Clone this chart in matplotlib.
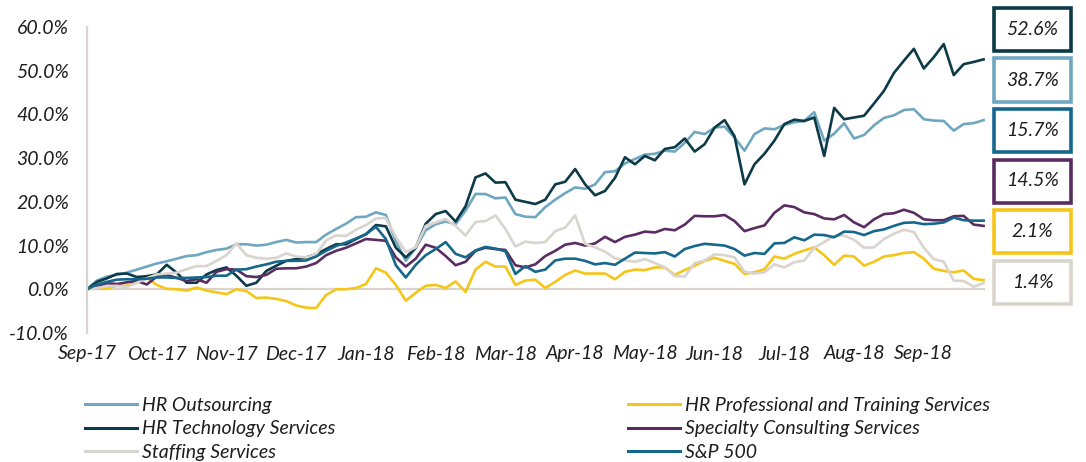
import numpy as np
import matplotlib
matplotlib.use("Agg")
import matplotlib.pyplot as plt
from matplotlib.lines import Line2D
from matplotlib.patches import Rectangle

# ---------------- data (cumulative return, %) ----------------
month_labels = ["Sep-17", "Oct-17", "Nov-17", "Dec-17", "Jan-18", "Feb-18", "Mar-18",
                "Apr-18", "May-18", "Jun-18", "Jul-18", "Aug-18", "Sep-18"]

hr_outsourcing = [0, 2.0, 2.9, 3.3, 3.8, 4.5, 5.2, 5.9, 6.4, 7.0, 7.6, 7.8, 8.5, 9.0, 9.3,
                  10.3, 10.3, 10.0, 10.2, 10.8, 11.3, 10.7, 10.8, 10.8, 12.5, 13.8, 15.0, 16.5, 16.6, 17.6,
                  17.0, 11.0, 6.5, 9.5, 13.5, 14.9, 15.5, 14.9, 18.0, 21.8, 21.8, 20.8, 21.0, 17.2, 16.6,
                  16.5, 18.8, 20.5, 22.0, 23.3, 23.0, 24.0, 26.8, 27.0, 28.8, 29.8, 30.8, 31.0, 31.7, 31.5,
                  33.5, 36.0, 35.5, 37.0, 37.2, 34.7, 31.7, 35.5, 36.8, 36.6, 37.6, 38.2, 38.5, 40.5, 34.0,
                  35.6, 38.0, 34.5, 35.3, 37.5, 39.2, 39.8, 41.0, 41.2, 38.9, 38.6, 38.5, 36.3, 37.8, 38.0, 38.7]

hr_technology = [0, 1.7, 2.5, 3.5, 3.6, 2.8, 3.0, 3.4, 5.6, 3.8, 1.5, 1.5, 3.4, 4.4, 5.0,
                 3.1, 0.8, 1.5, 4.2, 5.4, 6.5, 6.9, 7.3, 8.0, 9.2, 10.3, 10.3, 11.5, 12.6, 14.7,
                 14.4, 9.5, 7.3, 9.5, 15.0, 17.2, 17.9, 15.5, 19.0, 25.6, 26.5, 24.4, 24.5, 20.5, 20.0,
                 19.5, 20.5, 24.0, 24.6, 27.5, 24.0, 21.5, 22.5, 25.5, 30.2, 28.6, 30.5, 29.5, 32.1, 32.5,
                 34.5, 31.5, 33.2, 37.0, 38.7, 35.0, 24.0, 28.6, 31.0, 34.0, 37.8, 38.8, 38.5, 39.3, 30.5,
                 41.5, 38.9, 39.3, 39.7, 42.5, 45.4, 49.5, 52.3, 55.0, 50.5, 53.1, 56.1, 49.0, 51.5, 52.0, 52.6]

staffing = [0, 0.3, 0.7, 0.8, 0.5, 1.5, 2.5, 3.4, 3.6, 3.8, 4.6, 5.3, 5.3, 6.5, 7.8,
            10.5, 7.8, 7.2, 7.0, 7.2, 8.2, 7.5, 7.3, 8.0, 11.2, 12.3, 12.2, 13.6, 14.7, 16.2,
            16.3, 12.0, 8.5, 9.6, 14.5, 15.3, 16.1, 14.5, 12.3, 15.4, 15.6, 16.9, 13.8, 9.8, 10.9,
            10.6, 10.8, 13.3, 14.1, 16.9, 10.4, 9.6, 8.6, 7.1, 6.6, 6.3, 6.9, 6.0, 5.0, 3.0,
            2.9, 6.0, 6.6, 8.0, 7.8, 7.3, 4.0, 3.6, 3.9, 5.7, 5.0, 6.2, 6.6, 9.5, 10.8,
            12.2, 12.3, 11.3, 9.5, 9.6, 11.5, 12.7, 13.6, 13.1, 9.5, 6.9, 6.3, 2.0, 1.9, 0.6, 1.4]

hr_professional = [0, 0.2, 0.1, 0.8, 0.8, 1.5, 2.7, 1.0, 0.1, 0.0, -0.3, 0.4, -0.3, -0.7, -1.1,
                   0.0, -0.4, -2.0, -1.9, -2.2, -2.7, -3.7, -4.2, -4.3, -1.3, 0.0, 0.0, 0.3, 1.2, 4.8,
                   3.8, 1.0, -2.6, -0.8, 0.8, 1.0, 0.3, 1.8, -0.6, 4.5, 6.3, 5.2, 5.2, 1.0, 2.0,
                   2.2, 0.3, 1.7, 3.3, 4.3, 3.6, 3.6, 3.6, 2.3, 4.0, 4.5, 4.4, 5.0, 5.0, 3.3,
                   4.4, 5.4, 6.5, 7.2, 6.5, 5.8, 3.5, 3.9, 4.6, 7.5, 7.0, 8.1, 8.9, 9.6, 7.8,
                   5.6, 7.7, 7.5, 5.4, 6.3, 7.5, 7.8, 8.3, 8.5, 7.0, 4.7, 4.2, 3.9, 4.3, 2.4, 2.1]

specialty_consulting = [0, 0.7, 1.4, 1.2, 1.6, 1.9, 1.1, 2.9, 3.3, 2.6, 1.9, 2.3, 1.5, 4.0, 4.6,
                        4.5, 3.0, 2.8, 3.3, 4.7, 4.8, 4.8, 5.2, 6.0, 7.8, 8.8, 9.5, 10.5, 11.5, 11.3,
                        11.1, 7.3, 5.2, 7.0, 10.2, 9.5, 7.6, 5.5, 6.3, 8.8, 9.5, 9.2, 9.0, 5.5, 5.0,
                        5.7, 7.6, 8.8, 10.2, 10.6, 10.0, 10.5, 12.0, 10.8, 12.0, 12.5, 13.2, 13.0, 13.8, 13.5,
                        14.8, 16.8, 16.7, 16.7, 17.0, 15.6, 13.3, 14.0, 14.6, 17.5, 19.2, 18.8, 17.6, 17.2, 16.2,
                        16.0, 17.0, 15.3, 14.2, 16.0, 17.2, 17.4, 18.2, 17.5, 16.0, 15.8, 15.8, 16.7, 16.8, 14.8, 14.5]

sp500 = [0, 1.1, 1.7, 2.2, 2.3, 2.3, 2.4, 2.7, 2.7, 2.6, 2.6, 2.7, 2.8, 3.1, 3.1,
         4.5, 4.6, 5.2, 5.7, 6.3, 6.5, 6.5, 6.6, 7.5, 8.8, 9.9, 10.7, 11.6, 12.6, 14.3,
         11.5, 5.5, 2.7, 5.6, 7.8, 9.2, 10.8, 8.1, 7.3, 8.9, 9.7, 9.3, 8.7, 3.5, 5.3,
         4.0, 4.5, 6.6, 7.0, 7.0, 6.5, 5.7, 6.0, 5.6, 7.0, 8.4, 8.3, 8.2, 8.5, 7.5,
         9.2, 9.9, 10.4, 10.2, 10.0, 9.2, 7.7, 8.3, 8.1, 10.5, 10.6, 11.9, 11.2, 12.5, 12.4,
         11.9, 13.2, 13.1, 12.4, 13.3, 13.7, 14.5, 15.2, 15.3, 14.9, 15.0, 15.3, 16.4, 15.8, 15.7, 15.7]

series = [
    ("HR Outsourcing", hr_outsourcing, "#6fa7c0"),
    ("HR Professional and Training Services", hr_professional, "#f5c518"),
    ("HR Technology Services", hr_technology, "#0c3a48"),
    ("Specialty Consulting Services", specialty_consulting, "#5a2d62"),
    ("Staffing Services", staffing, "#d9d4cd"),
    ("S&P 500", sp500, "#15678b"),
]

# ---------------- figure ----------------
W, H = 1086, 462
FONT = "Lato"
FS = 14
TXT = "#1e1e1e"
plt.rcParams["font.family"] = [FONT, "DejaVu Sans"]
fig = plt.figure(figsize=(W / 100, H / 100), dpi=100)

def fx(px):
    return px / W

def fy(py):
    return 1 - py / H

ax = fig.add_axes([fx(87), fy(333), fx(985) - fx(87), fy(27) - fy(333)])

n = len(hr_outsourcing)
span = 12.88
x = np.linspace(0, 12.86, n)

axis_grey = "#d9d4cd"
ax.axhline(0, color=axis_grey, lw=1.6, zorder=1)
for name, vals, col in series:
    ax.plot(x, vals, color=col, lw=1.9, zorder=2, solid_joinstyle="round")

ax.set_xlim(0, span)
ax.set_ylim(-10, 60)
ax.set_yticks(np.arange(-10, 61, 10))
ax.set_yticklabels([f"{v:.1f}%" for v in np.arange(-10, 61, 10)])
ax.set_xticks(np.arange(len(month_labels)))
ax.set_xticklabels(month_labels)
for s in ["top", "right", "bottom"]:
    ax.spines[s].set_visible(False)
ax.spines["left"].set_color(axis_grey)
ax.spines["left"].set_linewidth(1.6)
ax.tick_params(axis="both", length=0, labelsize=FS, colors=TXT)
ax.tick_params(axis="y", pad=13)
ax.tick_params(axis="x", pad=9)
for lab in ax.get_xticklabels() + ax.get_yticklabels():
    lab.set_fontstyle("italic")

# ---------------- end-value boxes ----------------
ordered = sorted(series, key=lambda s: s[1][-1], reverse=True)
for i, (name, vals, col) in enumerate(ordered):
    top = 8 + 50.5 * i
    h = 43
    rect = Rectangle((fx(994), fy(top + h)), fx(1071) - fx(994), fy(top) - fy(top + h),
                     transform=fig.transFigure, facecolor="white", edgecolor=col, lw=2.6)
    fig.patches.append(rect)
    fig.text(fx(1032.5), fy(top + h / 2), f"{vals[-1]:.1f}%", ha="center", va="center",
             fontsize=FS, style="italic", color=TXT)

# ---------------- legend ----------------
def handles(items):
    return [Line2D([0], [0], color=c, lw=2.2) for _, _, c in items]

col1 = [series[0], series[2], series[4]]
col2 = [series[1], series[3], series[5]]
for items, xpx in [(col1, 85), (col2, 628)]:
    leg = fig.legend(handles(items), [s[0] for s in items], loc="upper left",
                     bbox_to_anchor=(fx(xpx), fy(397)), frameon=False, ncol=1,
                     handlelength=2.65, handletextpad=0.3, labelspacing=0.33,
                     borderpad=0, borderaxespad=0,
                     prop={"family": FONT, "style": "italic", "size": FS})
    for t in leg.get_texts():
        t.set_color(TXT)

fig.savefig("out.png", dpi=100)
